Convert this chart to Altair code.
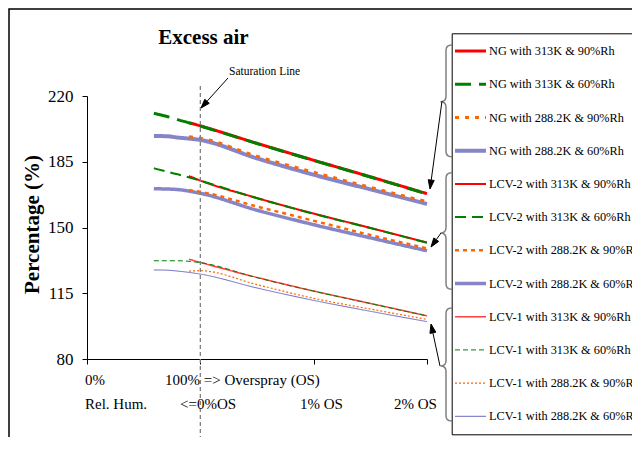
import math
import altair as alt
import pandas as pd

FONT = "Liberation Serif"

# ---------------- data ----------------
series = [
    "NG with 313K & 90%Rh", "NG with 313K & 60%Rh",
    "NG with 288.2K & 90%Rh", "NG with 288.2K & 60%Rh",
    "LCV-2 with 313K & 90%Rh", "LCV-2 with 313K & 60%Rh",
    "LCV-2 with 288.2K & 90%Rh", "LCV-2 with 288.2K & 60%Rh",
    "LCV-1 with 313K & 90%Rh", "LCV-1 with 313K & 60%Rh",
    "LCV-1 with 288.2K & 90%Rh", "LCV-1 with 288.2K & 60%Rh",
]

# x: 0..1 = relative humidity 0..100 %, 1..3 = overspray 0..2 %
x_rh60 = [0.59, 0.7, 0.8, 1.0, 1.5, 2.0, 2.5, 3.0]
x_rh90 = [0.9, 1.0, 1.5, 2.0, 2.5, 3.0]

ng_313_90 = [205.8, 204.1, 194.8, 185.8, 177.0, 168.0]
ng_313_60 = [210.8, 209.2, 207.4, 204.0, 194.7, 185.7, 176.9, 167.8]
ng_288_90 = [198.3, 197.5, 187.9, 179.4, 171.4, 163.7]
ng_288_60 = [198.7, 198.6, 197.9, 196.6, 186.8, 178.1, 170.3, 162.5]
lcv2_313_90 = [177.4, 175.0, 165.7, 157.4, 149.8, 142.0]
lcv2_313_60 = [181.5, 179.8, 178.3, 174.9, 165.6, 157.3, 149.7, 141.9]
lcv2_288_90 = [169.9, 169.0, 161.2, 153.6, 146.0, 138.9]
lcv2_288_60 = [170.6, 170.5, 170.2, 168.2, 159.2, 151.5, 144.5, 137.6]
lcv1_313_90 = [133.1, 131.4, 123.4, 116.2, 109.6, 103.0]
lcv1_313_60 = [132.3, 132.3, 132.3, 131.3, 123.3, 116.1, 109.5, 102.9]
lcv1_288_90 = [126.8, 127.0, 119.6, 112.3, 106.6, 101.1]
lcv1_288_60 = [127.4, 127.3, 126.8, 125.2, 117.8, 111.2, 105.4, 99.9]

values = [ng_313_90, ng_313_60, ng_288_90, ng_288_60,
          lcv2_313_90, lcv2_313_60, lcv2_288_90, lcv2_288_60,
          lcv1_313_90, lcv1_313_60, lcv1_288_90, lcv1_288_60]
xs = [x_rh90, x_rh60, x_rh90, x_rh60] * 3

y_ticks = [80, 115, 150, 185, 220]
x_ticks = [0, 1, 2, 3]
xlab_row1 = ["0%", "100% => Overspray (OS)"]
xlab_row2 = ["Rel. Hum.", "<=0%OS", "1% OS", "2% OS"]
title_text = "Excess air"
ytitle_text = "Percentage (%)"
sat_text = "Saturation Line"

# ---------------- styles ----------------
colors = ["#FF0000", "#008000", "#FF6600", "#8585C8",
          "#FF0000", "#008000", "#FF6600", "#8585C8",
          "#FF4040", "#008000", "#FF6600", "#6A6AC0"]
dashes = [[1, 0], [16, 8], [4, 6], [1, 0],
          [1, 0], [11, 6], [4, 4], [1, 0],
          [1, 0], [5, 3], [2, 2], [1, 0]]
widths = [3, 3, 3, 4, 2, 2, 2.5, 3.5, 1.5, 1, 1.2, 1]

draw_order = [3, 2, 0, 1, 7, 6, 4, 5, 11, 10, 8, 9]
rows = []
for i in draw_order:
    for xv, yv in zip(xs[i], values[i]):
        rows.append({"series": series[i], "x": xv, "y": yv})
df = pd.DataFrame(rows)

legend = alt.Legend(
    title=None, orient="none", legendX=364.7, legendY=-62.7, direction="vertical",
    symbolType="stroke", symbolSize=961, clipHeight=33, rowPadding=0.2, padding=1.3,
    labelOffset=1, symbolOffset=0, strokeColor="black", fillColor="white",
    labelFont=FONT, labelFontSize=12.3, labelColor="black", labelLimit=400,
)

lines = alt.Chart(df).mark_line(interpolate="monotone").encode(
    x=alt.X("x:Q", scale=alt.Scale(domain=[0, 3], nice=False, zero=False),
            axis=alt.Axis(values=x_ticks, labels=False, title=None, grid=False,
                          tickSize=5, tickColor="black", domainColor="black")),
    y=alt.Y("y:Q", scale=alt.Scale(domain=[80, 220], nice=False, zero=False),
            axis=alt.Axis(values=y_ticks, grid=False, title=ytitle_text,
                          titleFont=FONT, titleFontSize=21, titleFontWeight="bold",
                          titleColor="black", titleAngle=270, titleX=-54.5, titleY=128,
                          titleAlign="center", titleBaseline="middle",
                          labelFont=FONT, labelFontSize=17, labelColor="black",
                          labelPadding=9, tickSize=5, tickColor="black",
                          domainColor="black")),
    color=alt.Color("series:N", scale=alt.Scale(domain=series, range=colors), legend=legend),
    strokeDash=alt.StrokeDash("series:N", scale=alt.Scale(type="ordinal", domain=series, range=dashes),
                              legend=legend),
    strokeWidth=alt.StrokeWidth("series:N", scale=alt.Scale(type="ordinal", domain=series, range=widths),
                                legend=legend),
)

satline = alt.Chart(alt.Data(values=[{}])).mark_rule(
    color="#808080", strokeWidth=1.3, strokeDash=[4, 3]
).encode(x=alt.datum(1), y=alt.value(-10), y2=alt.value(347))


# ---------------- annotations (pixel positions relative to plot origin) ----------------
def pathmark(path, stroke, width, fill=None):
    kw = dict(shape=path, size=4, stroke=stroke, strokeWidth=width, opacity=1)
    if fill:
        kw.update(filled=True, fill=fill)
    else:
        kw.update(filled=False)
    return alt.Chart(alt.Data(values=[{}])).mark_point(**kw).encode(
        x=alt.value(0), y=alt.value(0))


def label(t, x, y, size, weight="normal", align="left"):
    return alt.Chart(alt.Data(values=[{}])).mark_text(
        text=t, align=align, baseline="middle", font=FONT, fontSize=size,
        fontWeight=weight, color="black"
    ).encode(x=alt.value(x), y=alt.value(y))


def brace(top, tip, bottom, xr=364.5, xm=359.0, xt=353.5):
    r = xr - xm
    return (f"M{xr},{top} Q{xm},{top} {xm},{top + r} L{xm},{tip - r} "
            f"Q{xm},{tip} {xt},{tip} Q{xm},{tip} {xm},{tip + r} "
            f"L{xm},{bottom - r} Q{xm},{bottom} {xr},{bottom} ")


def arrow(sx, sy, tx, ty, L=9.0, w=3.0):
    dx, dy = tx - sx, ty - sy
    d = math.hypot(dx, dy)
    ux, uy = dx / d, dy / d
    nx, ny = -uy, ux
    bx, by = tx - L * ux, ty - L * uy
    return (f"M{sx},{sy} L{bx:.2f},{by:.2f} "
            f"M{tx},{ty} L{bx + w * nx:.2f},{by + w * ny:.2f} "
            f"L{bx - w * nx:.2f},{by - w * ny:.2f} Z ")


braces = pathmark(brace(-51, 5.7, 60.7) + brace(76.7, 137, 193.3) + brace(212, 270, 325),
                  "#808080", 1.5)
arrows = pathmark(arrow(141, -18, 114, 12) + arrow(355, 5, 343, 93) +
                  arrow(354, 137, 344, 151) + arrow(353, 270, 344, 228),
                  "black", 1, fill="black")
frame = pathmark("M-78,350 L-78,-87 L560,-87", "black", 1.5)

texts = [
    label(title_text, 116.5, -58, 21, weight="bold", align="center"),
    label(sat_text, 142, -24, 11.5),
    label(xlab_row1[0], -2, 284, 15),
    label(xlab_row1[1], 78, 284, 15),
    label(xlab_row2[0], -2, 308, 15),
    label(xlab_row2[1], 93, 308, 15),
    label(xlab_row2[2], 213, 308, 15),
    label(xlab_row2[3], 307, 308, 15),
]

chart = alt.layer(lines, satline, braces, arrows, frame, *texts).properties(
    width=340, height=263,
    padding={"left": 79, "top": 88, "right": 205, "bottom": 78},
    autosize=alt.AutoSizeParams(type="none"),
    background="white",
).configure_view(stroke=None)

chart.save("out.html", embed_options={"renderer": "svg", "actions": False})
